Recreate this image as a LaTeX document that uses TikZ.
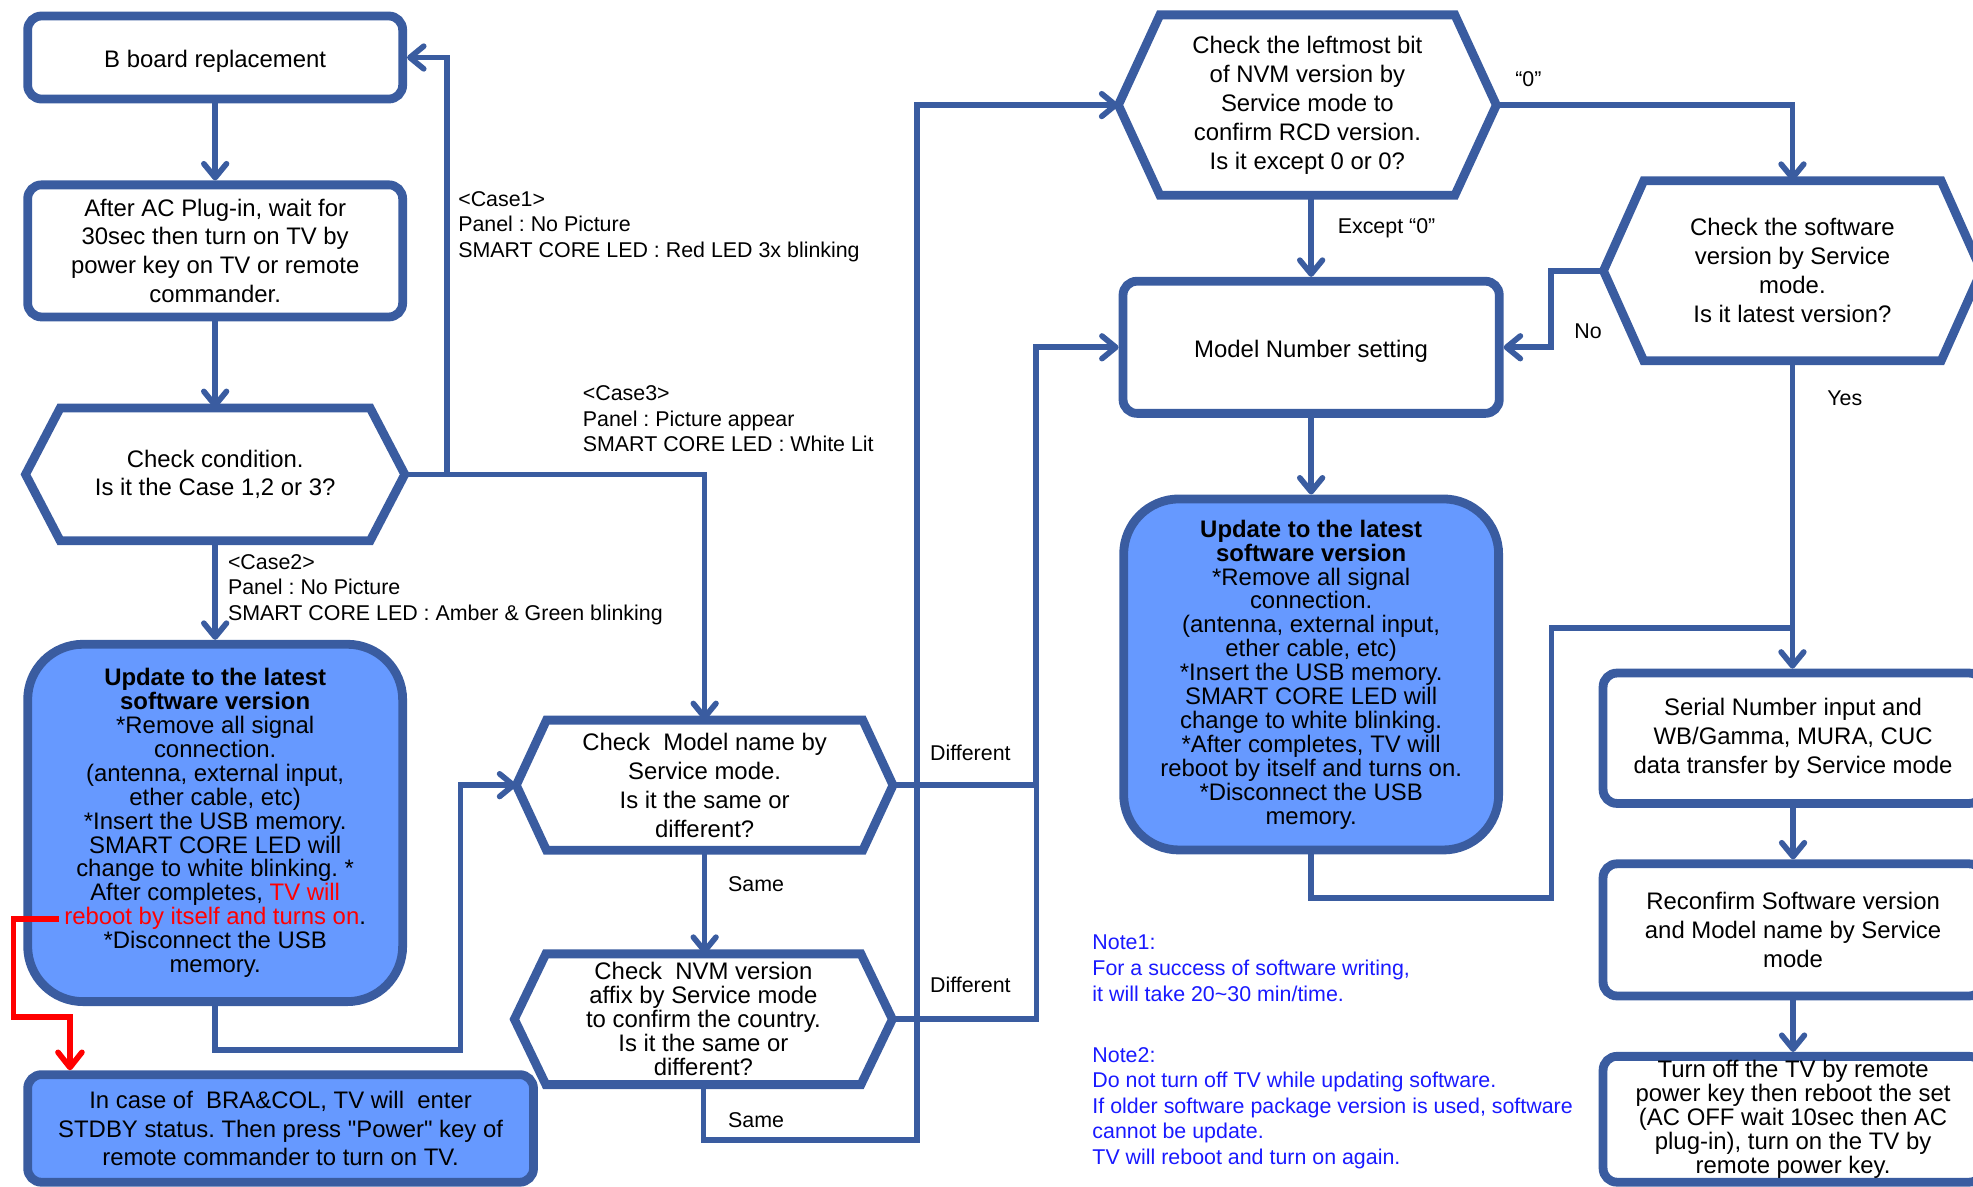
\documentclass[tikz,border=0pt]{standalone}
\usepackage{fontspec}
\setmainfont{Liberation Sans}[Ligatures=TeXOff]
\usetikzlibrary{arrows.meta,calc}
\definecolor{bd}{RGB}{58,92,160}
\definecolor{fl}{RGB}{102,153,255}
\definecolor{nt}{RGB}{25,25,255}
\definecolor{rd}{RGB}{255,0,0}
\frenchspacing
\newcommand\hexoutline[2]{\draw[hexline] (#1.west) -- ($(#1.north west)+(#2,0)$) -- ($(#1.north east)+(-#2,0)$) -- (#1.east) -- ($(#1.south east)+(-#2,0)$) -- ($(#1.south west)+(#2,0)$) -- cycle;}
\begin{document}
\begin{tikzpicture}[x=1pt,y=-1pt,
  box/.style={draw=bd, line width=7pt, rounded corners=11pt, fill=white, inner sep=0pt, align=center, font=\fontsize{19}{23}\selectfont},
  ubox/.style={box, fill=fl, rounded corners=44pt, font=\fontsize{19}{19}\selectfont},
  hexnode/.style={inner sep=0pt, align=center, font=\fontsize{19}{23}\selectfont},
  hexline/.style={draw=bd, line width=7pt},
  conn/.style={draw=bd, line width=4.5pt},
  arr/.style={conn, -{Straight Barb[length=11pt,width=18pt,round]}},
  redarr/.style={draw=rd, line width=4.5pt, -{Straight Barb[length=12pt,width=19pt,round]}},
  lab/.style={inner sep=0pt, anchor=west, align=left, font=\fontsize{17}{20.3}\selectfont},
  note/.style={lab, text=nt}]
\useasboundingbox (0,0) rectangle (1568,943);
\clip (0,0) rectangle (1568,943);

% left column
\node[box, minimum width=298pt, minimum height=66pt, text height=20pt, text depth=4pt] (b1) at (171,45.7) {B board replacement};
\node[box, minimum width=298pt, minimum height=105pt] (b2) at (171,199.4) {After AC Plug-in, wait for\\30sec then turn on TV by\\power key on TV or remote\\commander.};
\node[hexnode, minimum width=301pt, minimum height=105pt] (h1) at (171,377) {Check condition.\\Is it the Case 1,2 or 3?};
\hexoutline{h1}{27.5}
\node[ubox, minimum width=298pt, minimum height=284pt] (u1) at (171,654) {\textbf{Update to the latest}\\\textbf{software version}\\*Remove all signal\\connection.\\(antenna, external input,\\ether cable, etc)\\*Insert the USB memory.\\SMART CORE LED will\\change to white blinking. *\\After completes, \textcolor{rd}{TV will}\\\textcolor{rd}{reboot by itself and turns on}.\\*Disconnect the USB\\memory.};
\node[box, fill=fl, minimum width=402pt, minimum height=85.5pt] (bl) at (223,896.8) {In case of\ \ BRA\&COL, TV will\ \ enter\\STDBY status. Then press "Power" key of\\remote commander to turn on TV.};

% middle column
\node[hexnode, minimum width=299pt, minimum height=103pt] (h2) at (560,624) {Check\ \ Model name by\\Service mode.\\Is it the same or\\different?};
\hexoutline{h2}{24}
\node[hexnode, font=\fontsize{19}{19}\selectfont, minimum width=300pt, minimum height=103.5pt] (h3) at (559,810) {Check\ \ NVM version\\affix by Service mode\\to confirm the country.\\Is it the same or\\different?};
\hexoutline{h3}{25}

% right-middle column
\node[hexnode, minimum width=300pt, minimum height=143pt] (h4) at (1039,83.5) {Check the leftmost bit\\of NVM version by\\Service mode to\\confirm RCD version.\\Is it except 0 or 0?};
\hexoutline{h4}{33}
\node[box, minimum width=299pt, minimum height=105pt, text height=20pt, text depth=4pt] (mb) at (1042,276) {Model Number setting};
\node[ubox, minimum width=298pt, minimum height=279pt] (u2) at (1042,536) {\textbf{Update to the latest}\\\textbf{software version}\\*Remove all signal\\connection.\\(antenna, external input,\\ether cable, etc)\\*Insert the USB memory.\\SMART CORE LED will\\change to white blinking.\\*After completes, TV will\\reboot by itself and turns on.\\*Disconnect the USB\\memory.};

% right column
\node[hexnode, minimum width=300pt, minimum height=142.6pt] (h5) at (1424.5,215.2) {Check the software\\version by Service\\mode.\\Is it latest version?};
\hexoutline{h5}{32}
\node[box, minimum width=302pt, minimum height=103.6pt] (sb) at (1425,586.7) {Serial Number input and\\WB/Gamma, MURA, CUC\\data transfer by Service mode};
\node[box, minimum width=302pt, minimum height=105pt] (rb) at (1425,739) {Reconfirm Software version\\and Model name by Service\\mode};
\node[box, font=\fontsize{19}{19}\selectfont, minimum width=302pt, minimum height=100pt] (tb) at (1425,889.5) {Turn off the TV by remote\\power key then reboot the set\\(AC OFF wait 10sec then AC\\plug-in), turn on the TV by\\remote power key.};

% connectors
\draw[arr] (b1.south) -- (b2.north);
\draw[arr] (b2.south) -- (h1.north);
\draw[arr] (h1.east) -- ++(33.5,0) |- (b1.east);
\draw[arr] (h1.east) -| (h2.north);
\draw[arr] (h1.south) -- (u1.north);
\draw[arr] (u1.south) -- ++(0,35) -- ++(195,0) |- (h2.west);
\coordinate (r0) at (47,730.5);
\coordinate (r1) at (55.6,808);
\draw[redarr] (r0) -- (10.6,730.5) |- (r1) -- (r1 |- bl.north);
\draw[arr] (h2.south) -- (h2.south |- h3.north);
\draw[arr] (h3.south) -- ++(0,44) -- ++(170,0) |- (h4.west);
\draw[arr] (h2.east) -- ++(113.5,0) |- (mb.west);
\draw[conn] (h3.east) -- ++(114.5,0) |- (h2.east);
\draw[arr] (h4.east) -| (h5.north);
\draw[arr] (h4.south -| mb.north) -- (mb.north);
\draw[arr] (h5.west) -- ++(-41.5,0) |- (mb.east);
\draw[arr] (h5.south) -- (h5.south |- sb.north);
\draw[arr] (mb.south) -- (u2.north);
\coordinate (j) at (1424.5,499);
\draw[conn] (u2.south) -- ++(0,34.5) -- ++(191,0) |- (j);
\draw[arr] (sb.south) -- (rb.north);
\draw[arr] (rb.south) -- (tb.north);

% labels
\node[lab] (lc1) at (364,180) {<Case1>\\Panel : No Picture\\SMART CORE LED : Red LED 3x blinking};
\node[lab] (lc3) at (463,332.7) {<Case3>\\Panel : Picture appear\\SMART CORE LED : White Lit};
\node[lab] (lc2) at (181,468.5) {<Case2>\\Panel : No Picture\\SMART CORE LED : Amber \& Green blinking};
\node[lab] (ld1) at (739,598.5) {Different};
\node[lab] (ld2) at (739,783) {Different};
\node[lab] (ls1) at (578.5,702.5) {Same};
\node[lab] (ls2) at (578.5,890) {Same};
\node[lab] (l0) at (1204,63) {“0”};
\node[lab] (le) at (1063,181) {Except “0”};
\node[lab] (lno) at (1251,263.5) {No};
\node[lab] (lyes) at (1452,316.5) {Yes};
\node[note] (n1) at (868,769.5) {Note1:\\For a success of software writing,\\it will take 20\textasciitilde 30 min/time.};
\node[note] (n2) at (868,880.6) {Note2:\\Do not turn off TV while updating software.\\If older software package version is used, software\\cannot be update.\\TV will reboot and turn on again.};
\end{tikzpicture}
\end{document}
